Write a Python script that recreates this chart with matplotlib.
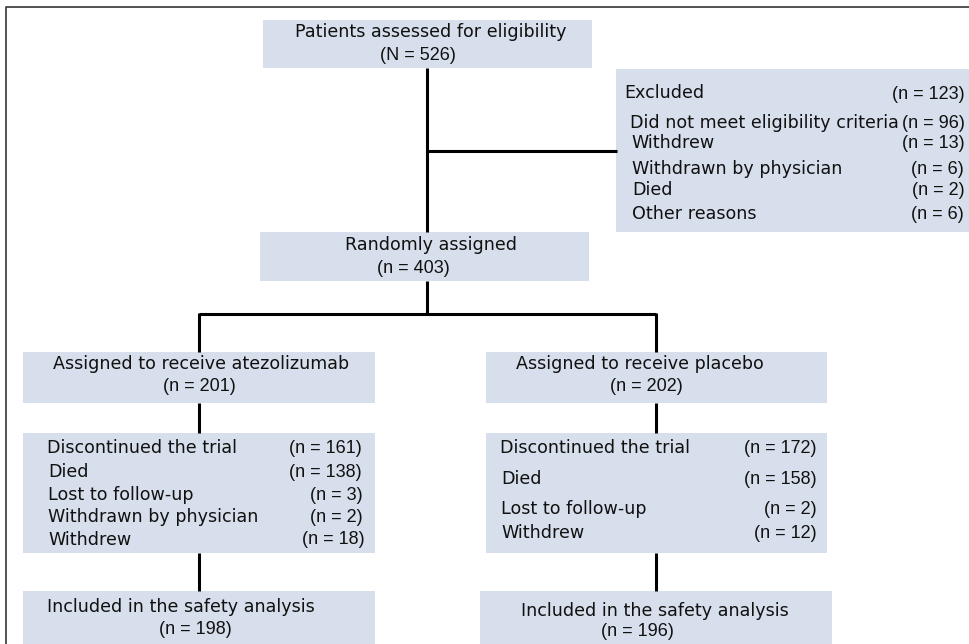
import matplotlib.pyplot as plt
from matplotlib.patches import Rectangle

plt.rcParams["font.family"] = ["DejaVu Sans"]

# ---- data (CONSORT counts) ----
screened_n = 526
excluded_n = 123
excl_reasons = ["Did not meet eligibility criteria", "Withdrew",
                "Withdrawn by physician", "Died", "Other reasons"]
excl_counts = [96, 13, 6, 2, 6]
randomized_n = 403
arm_names = ["atezolizumab", "placebo"]
arm_n = [201, 202]
disc_n = [161, 172]
disc_reasons = [
    ["Died", "Lost to follow-up", "Withdrawn by physician", "Withdrew"],
    ["Died", "Lost to follow-up", "Withdrew"],
]
disc_counts = [[138, 3, 2, 18], [158, 2, 12]]
safety_n = [198, 196]

# ---- layout in pixel units (origin top-left) ----
BOX = "#d6dfeb"
LW = 2.2
FS = 12.6          # labels
FS_N = 13.0        # counts, narrower face


def fmt(n, big=False):
    return f"({'N' if big else 'n'} = {n})"


fig = plt.figure(figsize=(9.7, 6.44), dpi=100)
ax = fig.add_axes([0, 0, 1, 1])
ax.set_xlim(0, 970)
ax.set_ylim(644, 0)
ax.axis("off")


def box(x0, x1, y0, y1):
    ax.add_patch(Rectangle((x0, y0), x1 - x0, y1 - y0, fc=BOX, ec="none", zorder=1))


def line(xs, ys):
    ax.plot(xs, ys, color="black", lw=LW, solid_capstyle="butt", zorder=2)


def txt(x, y, s, ha="center"):
    ax.text(x, y, s, ha=ha, va="center", fontsize=FS, color="#111111", zorder=3)


def num(x, y, s, ha="center"):
    ax.text(x, y, s, ha=ha, va="center", fontsize=FS_N, color="#111111",
            family=["Liberation Sans", "DejaVu Sans"], zorder=3)


# outer frame (left and top only, cut by the image edge)
ax.plot([6.5, 6.5, 970], [644, 7, 7], color="#444444", lw=1.3, zorder=2)

# screening
box(263, 592, 20, 68)
txt(431, 32, "Patients assessed for eligibility")
num(418, 55, fmt(screened_n, big=True))
line([427, 427], [68, 232])
line([427, 617], [151, 151])

# excluded
box(616, 972, 69, 232)
excl_y = [123, 143, 169, 190, 214]
excl_lx = [630, 631, 632, 632, 632]
excl_rx = [965, 965, 964, 965, 964]
txt(624, 93, "Excluded", ha="left")
num(965, 94, fmt(excluded_n), ha="right")
for lab, n, y, lx, rx in zip(excl_reasons, excl_counts, excl_y, excl_lx, excl_rx):
    txt(lx, y, lab, ha="left")
    num(rx, y, fmt(n), ha="right")

# randomization
box(260, 589, 232, 281)
txt(431, 245, "Randomly assigned")
num(413, 268, fmt(randomized_n))
line([427, 427], [281, 314])

arm_x = [199, 656]
line([arm_x[0], arm_x[1]], [314, 314])
for x in arm_x:
    line([x, x], [313, 352])

# arm boxes
arm_box = [(23, 375), (486, 827)]
arm_head_x = [(201, 199), (640, 646)]
for (x0, x1), (hx1, hx2), name, n in zip(arm_box, arm_head_x, arm_names, arm_n):
    box(x0, x1, 352, 403)
    txt(hx1, 364, f"Assigned to receive {name}")
    num(hx2, 386, fmt(n))

# discontinuation boxes
disc_y = [[472, 495, 517, 540], [479, 509, 533]]
disc_lx = [48, 501]
disc_rx = [[362, 363, 363, 365], [817, 817, 817]]
disc_head_rx = [362, 817]
for i, (x0, x1) in enumerate(arm_box):
    line([arm_x[i], arm_x[i]], [403, 433])
    box(x0, x1, 433, 553)
    txt(disc_lx[i] - 1, 448, "Discontinued the trial", ha="left")
    num(disc_head_rx[i], 448, fmt(disc_n[i]), ha="right")
    for lab, n, y, rx in zip(disc_reasons[i], disc_counts[i], disc_y[i], disc_rx[i]):
        txt(disc_lx[i], y, lab, ha="left")
        num(rx, y, fmt(n), ha="right")
    line([arm_x[i], arm_x[i]], [553, 591])

# safety population
safe_box = [(23, 375), (480, 832)]
safe_head = [((181, 607), (195, 630)), ((655, 611), (637, 632))]
for (x0, x1), ((tx, ty), (nx, ny)), n in zip(safe_box, safe_head, safety_n):
    box(x0, x1, 591, 650)
    txt(tx, ty, "Included in the safety analysis")
    num(nx, ny, fmt(n))

fig.savefig("out.png", dpi=100)
